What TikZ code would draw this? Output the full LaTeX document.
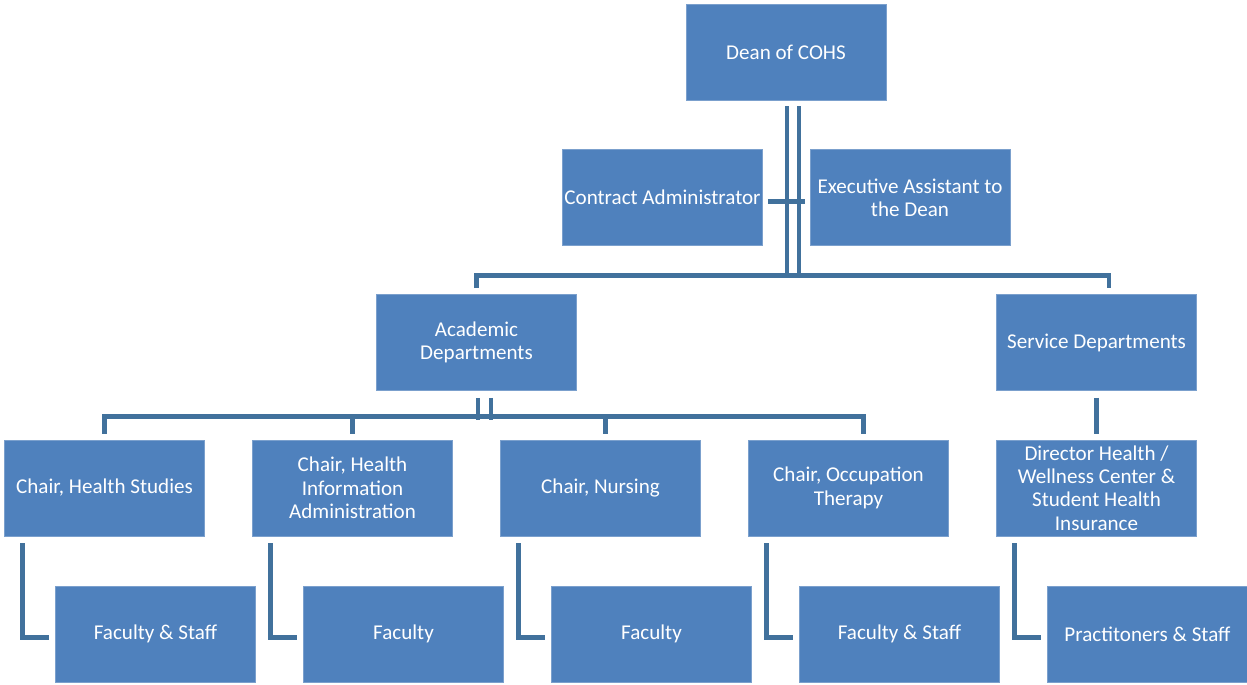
\documentclass[tikz,border=0pt]{standalone}
\usepackage{fontspec}
\setmainfont{Carlito}
\usetikzlibrary{calc}
\definecolor{boxblue}{HTML}{4F81BD}
\definecolor{linkblue}{HTML}{41719C}
\begin{document}
\begin{tikzpicture}[x=0.02cm, y=-0.02cm,
        unitbox/.style={rectangle, fill=boxblue, draw=boxblue!75!white, line width=0.4pt, text=white,
            minimum width=4cm, minimum height=1.92cm, inner sep=1pt, align=center,
            font=\fontsize{12}{13.3}\selectfont},
        link/.style={draw=linkblue, line width=2.8pt},
    ]
        \useasboundingbox (0,0) rectangle (1247,684);

        %Nodes
        \node[unitbox] (dean) at (786,52) {Dean of COHS};
        \node[unitbox] (contract) at (662.5,197.5) {Contract Administrator};
        \node[unitbox] (exec) at (910,197.5) {Executive Assistant to\\the Dean};

        \node[unitbox] (acad) at (476.5,342.5) {Academic\\Departments};
        \node[unitbox] (serv) at (1096.5,342.5) {Service Departments};

        \node[unitbox] (chs) at (104.5,488) {Chair, Health Studies};
        \node[unitbox] (chi) at (352.5,488) {Chair, Health\\Information\\Administration};
        \node[unitbox] (chn) at (600.5,488) {Chair, Nursing};
        \node[unitbox] (cot) at (848.5,488) {Chair, Occupation\\Therapy};
        \node[unitbox] (dir) at (1096.5,488) {Director Health /\\Wellness Center \&\\Student Health\\Insurance};

        \node[unitbox] (fhs) at (155.5,634) {Faculty \& Staff};
        \node[unitbox] (fhi) at (403.5,634) {Faculty};
        \node[unitbox] (fn) at (651.5,634) {Faculty};
        \node[unitbox] (fot) at (899.5,634) {Faculty \& Staff};
        \node[unitbox] (prac) at (1147.5,634) {Practitoners \& Staff};

        %Lines
        \draw[link] ($(dean.south)+(1,6)$) -- ++(0,169);
        \draw[link] ($(dean.south)+(13,6)$) -- ++(0,169);
        \draw[link] ($(contract.east)+(5,4)$) -- ($(exec.west)+(-5,4)$);
        \draw[link] ($(acad.north)+(0,-6)$) -- ++(0,-12.5) -| ($(serv.north)+(12.5,-6)$);

        \draw[link] ($(acad.south)+(1.5,7)$) -- ++(0,22);
        \draw[link] ($(acad.south)+(14.5,7)$) -- ++(0,22);
        \draw[link] ($(chs.north)+(0,-6)$) -- ++(0,-17.5) -| ($(cot.north)+(15,-6)$);
        \draw[link] ($(chi.north)+(0,-6)$) -- ++(0,-17.5);
        \draw[link] ($(chn.north)+(5,-6)$) -- ++(0,-17.5);

        \draw[link] ($(serv.south)+(0,7)$) -- ($(dir.north)+(0,-6)$);

        % chair to staff
        \draw[link] ($(chs.south west)+(18,7)$) |- ($(fhs.west)+(-6,3.5)$);
        \draw[link] ($(chi.south west)+(18,7)$) |- ($(fhi.west)+(-6,3.5)$);
        \draw[link] ($(chn.south west)+(18,7)$) |- ($(fn.west)+(-6,3.5)$);
        \draw[link] ($(cot.south west)+(18,7)$) |- ($(fot.west)+(-6,3.5)$);
        \draw[link] ($(dir.south west)+(18,7)$) |- ($(prac.west)+(-6,3.5)$);
    \end{tikzpicture}
\end{document}
